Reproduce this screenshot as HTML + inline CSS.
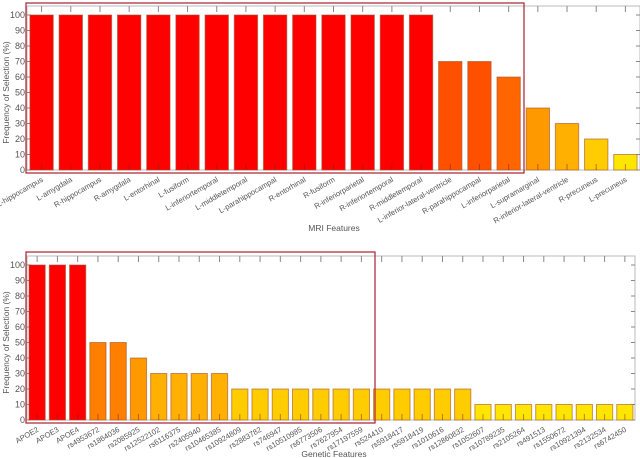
<!DOCTYPE html>
<html><head><meta charset="utf-8"><style>
html,body{margin:0;padding:0;background:#fff;}
svg{display:block;font-family:"Liberation Sans",sans-serif;}
</style></head><body>
<svg id="chart" width="640" height="458" viewBox="0 0 640 458"></svg>
<script>
const mriCategories=["L-hippocampus","L-amygdala","R-hippocampus","R-amygdala","L-entorhinal","L-fusiform","L-inferiortemporal","L-middletemporal","L-parahippocampal","R-entorhinal","R-fusiform","R-inferiorparietal","R-inferiortemporal","R-middletemporal","L-inferior-lateral-ventricle","R-parahippocampal","L-inferiorparietal","L-supramarginal","R-inferior-lateral-ventricle","R-precuneus","L-precuneus"];
const mriValues=[100,100,100,100,100,100,100,100,100,100,100,100,100,100,70,70,60,40,30,20,10];
const genCategories=["APOE2","APOE3","APOE4","rs4953672","rs1864036","rs2085925","rs12522102","rs6116375","rs2405940","rs10465385","rs10924809","rs2883782","rs746947","rs10510985","rs6773506","rs7627954","rs17197559","rs524410","rs5918417","rs5918419","rs1010616","rs12860832","rs1052607","rs10789235","rs2105264","rs491513","rs1550672","rs10921394","rs2132534","rs6742450"];
const genValues=[100,100,100,50,50,40,30,30,30,30,20,20,20,20,20,20,20,20,20,20,20,20,10,10,10,10,10,10,10,10];
const yTicks=[0,10,20,30,40,50,60,70,80,90,100];

const NS="http://www.w3.org/2000/svg";
const svg=document.getElementById('chart');
function mk(tag,attrs,parent){const e=document.createElementNS(NS,tag);for(const k in attrs)e.setAttribute(k,attrs[k]);(parent||svg).appendChild(e);return e;}
function color(v){
  if(v>=100)return"#ff0000";if(v>=70)return"#ff5000";if(v>=60)return"#ff6600";if(v>=50)return"#ff8000";
  if(v>=40)return"#ff9900";if(v>=30)return"#ffb000";if(v>=20)return"#ffcc00";return"#ffe600";}

function drawChart(cfg,cats,vals){
  const g=mk('g',{});
  
  
  const x0=cfg.x0,x1=cfg.x1,yb=cfg.yb,yt=cfg.yt,ft=cfg.frameTop;
  const ys=v=>yb-(v/100)*(yb-yt);
  const pitch=(x1-x0)/cats.length;
  const xs=i=>x0+pitch*(i+0.5);
  const fr=mk('rect',{x:x0,y:ft,width:x1-x0,height:yb-ft,fill:'none',stroke:'#bbb','stroke-width':1},g);
  
  yTicks.forEach(t=>{
    const y=ys(t);
    mk('line',{x1:x0,x2:x0+4,y1:y,y2:y,stroke:'#888'},g);
    mk('line',{x1:x1-4,x2:x1,y1:y,y2:y,stroke:'#888'},g);
    const tx=mk('text',{x:x0-2,y:y+3,'font-size':9,'text-anchor':'end',fill:'#555'},g);
    tx.textContent=t;
    
  });
  cats.forEach((c,i)=>{
    const cx=xs(i);
    mk('line',{x1:cx,x2:cx,y1:ft,y2:ft+6,stroke:'#888'},g);
    const bw=pitch*0.8;
    const b=mk('rect',{x:cx-bw/2,y:ys(vals[i]),width:bw,height:yb-ys(vals[i]),fill:color(vals[i]),stroke:'#a0522d','stroke-opacity':0.6,'stroke-width':1},g);
    
    
    mk('line',{x1:cx,x2:cx,y1:yb-6,y2:yb,stroke:'#7a2020','stroke-opacity':0.5},g);
    const l=mk('text',{x:cx+2,y:yb+11,'font-size':7.6,'text-anchor':'end',fill:'#555',transform:`rotate(-30 ${cx+2} ${yb+11})`},g);
    l.textContent=c;
    
    
  });
  const hb=mk('rect',{x:x0-1,y:cfg.boxTop,width:cfg.boxRight-x0+1,height:yb+3-cfg.boxTop,fill:'none',stroke:'#b03040','stroke-width':1.3},g);
  
  const yt2=mk('text',{x:0,y:0,'font-size':8.5,'text-anchor':'middle',fill:'#555',transform:`translate(9 ${(yb+yt)/2}) rotate(-90)`},g);
  yt2.textContent='Frequency of Selection (%)';
  
  const xt=mk('text',{x:334,y:cfg.xTitleY,'font-size':8.5,'text-anchor':'middle',fill:'#555'},g);
  xt.textContent=cfg.xTitle;
  
}
drawChart({name:'mri-chart',x0:27,x1:640,yb:170,yt:15,frameTop:6,boxTop:3,boxRight:524,xTitle:'MRI Features',xTitleY:231},mriCategories,mriValues);
drawChart({name:'genetic-chart',x0:27,x1:635,yb:420,yt:265,frameTop:256,boxTop:252,boxRight:375,xTitle:'Genetic Features',xTitleY:457},genCategories,genValues);
</script>
</body></html>
